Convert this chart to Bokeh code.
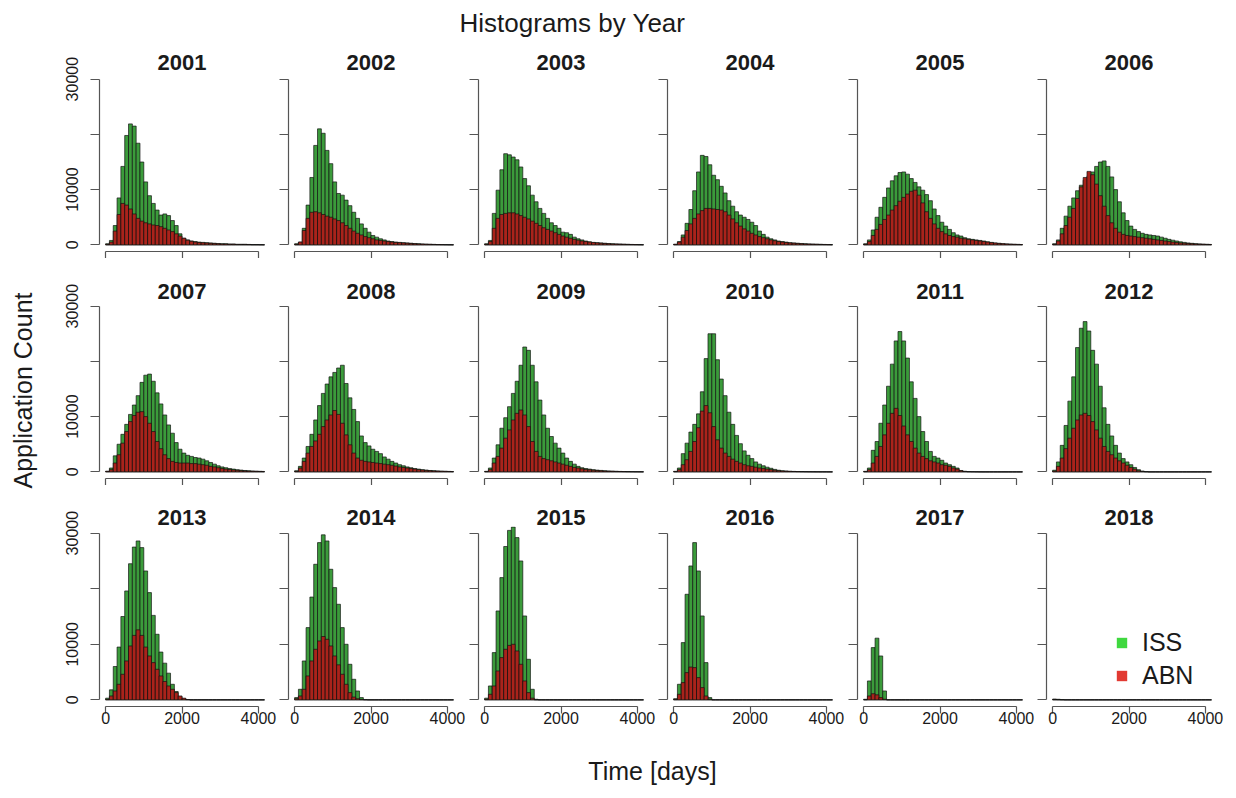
import math
from bokeh.plotting import figure
from bokeh.layouts import row, column
from bokeh.models import Range1d, FixedTicker, Label, Legend, LegendItem, CustomJSTickFormatter
from bokeh.embed import file_html
from bokeh.resources import INLINE

FONT = "Liberation Sans"

# ---------------- data: counts per 100-day bin (bins 0-100, 100-200, ...) ----------------
NB = 43
BIN = 100
bin_left = [i * BIN for i in range(NB)]
bin_mid = [b + BIN / 2 for b in bin_left]

years = list(range(2001, 2019))
series_names = ["ISS", "ABN"]
x_ticks = [0, 2000, 4000]
y_ticks = [0, 10000, 20000, 30000]

ISS_2001 = [200, 800, 3500, 8500, 14200, 19800, 21900, 21500, 18400, 15000, 11400, 8900, 7500, 6300, 5400, 5600, 5300, 4400, 3500, 2000, 1200, 900, 700, 600, 500, 450, 400, 350, 300, 250, 200, 200, 150, 150, 100, 100, 100, 80, 50, 50, 40, 30, 20]
ABN_2001 = [100, 500, 2500, 5500, 7500, 7200, 6500, 5600, 4800, 4300, 4000, 3800, 3600, 3500, 3300, 3000, 2700, 2400, 2000, 1600, 1200, 850, 650, 500, 420, 380, 330, 280, 240, 200, 170, 160, 120, 120, 80, 80, 80, 60, 40, 40, 30, 20, 15]
ISS_2002 = [200, 500, 3000, 7200, 12200, 18000, 21000, 20200, 17100, 14700, 11400, 9300, 9000, 8100, 7100, 5900, 4800, 3800, 3000, 2300, 1700, 1400, 1100, 900, 700, 600, 500, 450, 400, 350, 300, 250, 200, 150, 120, 100, 80, 60, 50, 40, 30, 20, 20]
ABN_2002 = [100, 500, 2600, 4800, 5900, 6000, 5800, 5500, 5200, 5000, 4700, 4400, 4000, 3500, 3000, 2500, 2100, 1800, 1500, 1300, 1100, 900, 800, 700, 600, 500, 450, 400, 350, 300, 250, 200, 180, 150, 120, 100, 80, 60, 50, 40, 30, 20, 20]
ISS_2003 = [200, 800, 5700, 9900, 13600, 16500, 16300, 15900, 15400, 14100, 12000, 10700, 9000, 7800, 6600, 5700, 4800, 4000, 3500, 3000, 2300, 2200, 1900, 1400, 1100, 900, 700, 550, 450, 400, 350, 300, 250, 200, 180, 150, 120, 100, 80, 60, 50, 40, 30]
ABN_2003 = [100, 600, 3000, 4800, 5500, 5700, 5800, 5800, 5600, 5300, 5000, 4700, 4300, 3900, 3500, 3100, 2800, 2500, 2200, 1900, 1600, 1400, 1200, 1000, 850, 700, 600, 500, 420, 360, 300, 250, 200, 170, 140, 120, 100, 80, 60, 50, 40, 30, 20]
ISS_2004 = [100, 600, 1800, 3900, 6400, 9800, 13200, 16200, 16000, 14500, 12600, 11800, 10600, 9400, 8000, 7000, 6000, 5400, 5000, 4600, 4100, 3500, 2500, 1900, 1400, 1100, 900, 700, 600, 500, 400, 350, 300, 250, 200, 170, 140, 120, 100, 80, 60, 50, 40]
ABN_2004 = [100, 500, 1400, 2600, 3800, 4800, 5600, 6200, 6600, 6600, 6500, 6400, 6300, 6000, 5400, 4700, 4000, 3400, 2900, 2500, 2100, 1800, 1500, 1300, 1100, 900, 750, 600, 500, 420, 350, 300, 250, 200, 170, 140, 120, 100, 80, 60, 50, 40, 30]
ISS_2005 = [200, 900, 2700, 5000, 6800, 8600, 10300, 11600, 12500, 13100, 13200, 12800, 12000, 11300, 10500, 9900, 9100, 8000, 6500, 5300, 4100, 3400, 2800, 2200, 1800, 1600, 1300, 1100, 1000, 900, 800, 700, 550, 450, 350, 280, 220, 170, 130, 100, 80, 60, 50]
ABN_2005 = [100, 600, 1700, 2800, 3700, 4600, 5400, 6300, 7100, 7900, 8600, 9200, 9700, 9900, 9000, 7600, 6000, 4800, 3800, 3000, 2400, 2000, 1700, 1500, 1400, 1200, 1100, 1000, 900, 800, 700, 600, 500, 400, 320, 260, 200, 160, 120, 100, 80, 60, 50]
ISS_2006 = [200, 900, 3000, 5200, 7000, 8500, 9800, 10800, 11700, 12500, 13200, 14200, 15000, 15200, 14200, 12300, 10000, 7800, 5800, 4400, 3400, 2800, 2400, 2100, 1900, 1800, 1700, 1600, 1400, 1200, 1000, 850, 700, 550, 450, 350, 280, 220, 170, 130, 100, 80, 60]
ABN_2006 = [100, 700, 2000, 3500, 5000, 6600, 8400, 10500, 12200, 13300, 12700, 11000, 8900, 7000, 5300, 4000, 3000, 2300, 1900, 1700, 1600, 1500, 1400, 1300, 1200, 1100, 1000, 900, 800, 700, 600, 500, 420, 350, 300, 250, 200, 160, 130, 100, 80, 60, 50]
ISS_2007 = [100, 700, 2900, 5000, 6800, 8600, 10400, 12100, 13800, 16200, 17500, 17700, 16400, 14300, 12300, 10300, 8500, 7000, 5300, 4100, 3400, 3000, 2800, 2600, 2500, 2300, 2000, 1700, 1400, 1100, 900, 750, 600, 500, 400, 320, 250, 200, 150, 120, 100, 80, 60]
ABN_2007 = [100, 400, 1600, 3100, 5200, 7300, 9100, 10200, 10800, 10900, 10000, 8800, 7300, 5500, 4200, 3100, 2400, 1900, 1700, 1600, 1600, 1600, 1500, 1500, 1400, 1300, 1200, 1000, 900, 750, 600, 500, 420, 350, 280, 220, 180, 140, 110, 90, 70, 50, 40]
ISS_2008 = [200, 1000, 2500, 4600, 6800, 9400, 12000, 14200, 15900, 17200, 18000, 18800, 19300, 16000, 13400, 11300, 9100, 6500, 5300, 4700, 4100, 3700, 3300, 2700, 2300, 1900, 1600, 1300, 1100, 900, 750, 600, 500, 400, 320, 250, 200, 160, 120, 100, 80, 60, 50]
ABN_2008 = [100, 700, 1900, 3400, 4600, 5600, 6800, 8200, 9400, 10300, 11100, 10400, 8800, 6700, 4900, 3400, 2500, 2100, 1900, 1800, 1700, 1600, 1500, 1400, 1300, 1200, 1050, 900, 800, 700, 600, 500, 400, 330, 270, 220, 180, 140, 110, 90, 70, 50, 40]
ISS_2009 = [100, 700, 2500, 4900, 7900, 9800, 11800, 14200, 16400, 19300, 22600, 22000, 19300, 16300, 13000, 10300, 7900, 6400, 5200, 4300, 3400, 2500, 1900, 1400, 1000, 750, 600, 500, 400, 320, 260, 200, 160, 130, 100, 80, 60, 50, 40, 30, 20, 20, 10]
ABN_2009 = [50, 400, 1600, 2800, 4300, 6100, 7600, 9400, 10600, 11200, 10300, 8200, 5500, 3700, 2800, 2400, 2200, 2000, 1800, 1600, 1400, 1200, 1000, 800, 700, 550, 450, 370, 300, 240, 190, 150, 120, 100, 80, 60, 50, 40, 30, 20, 20, 10, 10]
ISS_2010 = [100, 700, 3300, 5200, 7200, 8600, 10500, 14500, 20500, 25000, 25000, 20300, 16800, 13800, 10800, 8600, 6600, 5100, 3800, 3000, 2400, 1800, 1400, 1100, 850, 650, 450, 300, 200, 150, 100, 80, 60, 50, 40, 30, 20, 20, 10, 10, 10]
ABN_2010 = [50, 400, 1300, 2200, 3700, 5500, 8000, 11000, 12000, 10700, 8200, 5800, 4300, 3400, 2800, 2300, 1900, 1600, 1300, 1100, 1000, 850, 700, 600, 500, 400, 300, 220, 160, 120, 90, 70, 50, 40, 30, 20, 20, 10, 10, 10]
ISS_2011 = [100, 700, 3900, 5500, 8800, 12100, 15500, 19500, 23700, 25400, 23700, 20600, 16300, 13300, 10000, 7300, 5500, 3700, 2800, 2500, 2100, 1600, 1300, 1000, 700, 250, 100, 50, 30, 20, 10]
ABN_2011 = [50, 400, 1600, 2800, 4600, 6700, 8800, 10600, 11500, 10200, 8300, 6700, 5500, 4300, 3400, 2800, 2400, 2000, 1800, 1600, 1300, 1200, 1000, 700, 500, 200, 80, 30, 20, 10]
ISS_2012 = [300, 1800, 4800, 8400, 12800, 17200, 22500, 26000, 27200, 25500, 22000, 19500, 15500, 11600, 8600, 6500, 4800, 3400, 2400, 1800, 1300, 800, 400, 150, 50]
ABN_2012 = [150, 1000, 2500, 4200, 6100, 7900, 9400, 10300, 10600, 10200, 9100, 7600, 6100, 4600, 3700, 3100, 2500, 2000, 1600, 1200, 800, 500, 200, 70, 20]
ISS_2013 = [300, 1800, 6000, 9500, 15000, 19600, 24500, 27500, 28600, 27400, 23200, 19300, 15200, 11800, 8600, 6600, 4800, 2800, 1500, 600, 200, 50]
ABN_2013 = [100, 700, 1600, 2800, 4600, 7000, 9700, 11600, 12600, 11600, 9500, 7900, 6700, 5500, 4300, 3300, 2500, 1900, 1300, 700, 300, 50]
ISS_2014 = [400, 1900, 7000, 13000, 18500, 24400, 28300, 29700, 28600, 23500, 20200, 17200, 13000, 10000, 6400, 3700, 1600, 400, 50]
ABN_2014 = [200, 700, 1900, 4300, 7000, 9100, 10600, 11400, 10900, 9700, 7900, 6300, 4600, 2800, 1300, 500, 200, 50]
ISS_2015 = [300, 2500, 8500, 16000, 22000, 27600, 30500, 31100, 29200, 25000, 15100, 7300, 1900, 100]
ABN_2015 = [100, 1000, 2500, 5200, 7600, 9100, 9800, 10000, 8800, 6400, 3400, 1300, 300]
ISS_2016 = [200, 2800, 10300, 19000, 24100, 28300, 23200, 15100, 6700, 400]
ABN_2016 = [100, 1000, 3100, 4900, 5900, 5800, 4000, 2200, 700, 100]
ISS_2017 = [100, 3400, 9400, 11100, 7900, 1600]
ABN_2017 = [20, 700, 1100, 900, 400, 100]
ISS_2018 = [150, 100, 50]
ABN_2018 = [50, 30]

ISS = [ISS_2001, ISS_2002, ISS_2003, ISS_2004, ISS_2005, ISS_2006, ISS_2007, ISS_2008, ISS_2009,
       ISS_2010, ISS_2011, ISS_2012, ISS_2013, ISS_2014, ISS_2015, ISS_2016, ISS_2017, ISS_2018]
ABN = [ABN_2001, ABN_2002, ABN_2003, ABN_2004, ABN_2005, ABN_2006, ABN_2007, ABN_2008, ABN_2009,
       ABN_2010, ABN_2011, ABN_2012, ABN_2013, ABN_2014, ABN_2015, ABN_2016, ABN_2017, ABN_2018]


def pad(v):
    return list(v) + [0] * (NB - len(v))


# ---------------- styling / layout ----------------
GREEN = "#3b9b3b"
RED = "#aa231b"
EDGE = "#111111"
LEG_GREEN = "#3fd83f"
LEG_RED = "#e23a32"
AXIS = "#555555"
TXT = "#1a1a1a"

FRAME_W = 165
FRAME_H = 180
COL_W = [238, 190, 189, 190, 189, 190]
COL_BL = [59, 10, 10, 10, 10, 10]
ROW_BT = [18, 18, 18]
ROW_BB = [6, 6, 32]
YLAB_W = 40
GRID_W = sum(COL_W)
TOTAL_W = YLAB_W + GRID_W
BOT_H = 56

TOP_H = 80            # strip with main title + titles of row 1
STRIP_H = 50          # strips with titles of rows 2 and 3
ROW_OVERLAP = [26, 27, 27]   # each panel row slides up over the strip above it
TITLE_Y = [62, 33, 32]       # title centre measured from the top of its strip
MAIN_TITLE_Y = 22

XR = (-160, 4160)
YR = (-1200, 31200)

col_frame_left = []
acc = 0
for c in range(6):
    col_frame_left.append(acc + COL_BL[c])
    acc += COL_W[c]
col_center = [fl + FRAME_W / 2 for fl in col_frame_left]

no_labels = CustomJSTickFormatter(code="return '';")


def make_panel(idx, r, c):
    year = years[idx]
    w = COL_W[c]
    bl = COL_BL[c]
    br = w - bl - FRAME_W
    bt, bb = ROW_BT[r], ROW_BB[r]
    h = bt + FRAME_H + bb
    p = figure(width=w, height=h, x_range=Range1d(*XR), y_range=Range1d(*YR),
               output_backend="svg", toolbar_location=None,
               min_border_left=bl, min_border_right=br,
               min_border_top=bt, min_border_bottom=bb)
    p.outline_line_color = None
    p.xgrid.visible = False
    p.ygrid.visible = False
    p.background_fill_alpha = 0
    p.border_fill_alpha = 0

    p.vbar(x=bin_mid, width=BIN, top=pad(ISS[idx]), bottom=0,
           fill_color=GREEN, line_color=EDGE, line_width=0.8, line_alpha=0.85)
    p.vbar(x=bin_mid, width=BIN, top=pad(ABN[idx]), bottom=0,
           fill_color=RED, line_color=EDGE, line_width=0.8, line_alpha=0.85)

    xa = p.xaxis[0]
    xa.ticker = FixedTicker(ticks=x_ticks)
    xa.bounds = (x_ticks[0], x_ticks[-1])
    xa.major_tick_out = 7
    xa.major_tick_in = 0
    xa.minor_tick_out = 0
    xa.minor_tick_in = 0
    xa.axis_line_color = AXIS
    xa.major_tick_line_color = AXIS
    xa.axis_line_width = 1.2
    xa.major_tick_line_width = 1.2
    if r == 2:
        xa.major_label_text_font = FONT
        xa.major_label_text_font_size = "16px"
        xa.major_label_text_color = TXT
        xa.major_label_standoff = -2
    else:
        xa.formatter = no_labels
        xa.major_label_text_font_size = "0px"
        xa.major_label_standoff = 0

    ya = p.yaxis[0]
    ya.ticker = FixedTicker(ticks=y_ticks)
    ya.bounds = (y_ticks[0], y_ticks[-1])
    ya.major_tick_out = 9
    ya.major_tick_in = 0
    ya.minor_tick_out = 0
    ya.minor_tick_in = 0
    ya.axis_line_color = AXIS
    ya.major_tick_line_color = AXIS
    ya.axis_line_width = 1.2
    ya.major_tick_line_width = 1.2
    if c == 0:
        ya.formatter = CustomJSTickFormatter(code="return tick == 20000 ? '' : tick.toFixed(0);")
        ya.major_label_orientation = "vertical"
        ya.major_label_text_font = FONT
        ya.major_label_text_font_size = "16px"
        ya.major_label_text_color = TXT
        ya.major_label_standoff = 12
    else:
        ya.formatter = no_labels
        ya.major_label_text_font_size = "0px"
        ya.major_label_standoff = 0

    if year == 2018:
        r_iss = p.vbar(x=bin_mid, top=pad(ISS[idx]), width=BIN, fill_color=LEG_GREEN,
                       line_color=None, visible=False)
        r_abn = p.vbar(x=bin_mid, top=pad(ABN[idx]), width=BIN, fill_color=LEG_RED,
                       line_color=None, visible=False)
        leg = Legend(items=[LegendItem(label=series_names[0], renderers=[r_iss]),
                            LegendItem(label=series_names[1], renderers=[r_abn])],
                     location=(69, 16), orientation="vertical",
                     glyph_width=13, glyph_height=13, label_height=30,
                     spacing=3, padding=0, margin=0, label_standoff=14,
                     label_text_font=FONT, label_text_font_size="25px",
                     label_text_color=TXT, background_fill_alpha=0,
                     border_line_color=None)
        p.add_layout(leg)
    return p


def blank_fig(w, h, **kw):
    p = figure(width=w, height=h, x_range=Range1d(0, w), y_range=Range1d(0, h),
               output_backend="svg", toolbar_location=None,
               x_axis_type=None, y_axis_type=None, min_border=0, **kw)
    p.outline_line_color = None
    p.background_fill_alpha = 0
    p.border_fill_alpha = 0
    return p


def add_text(p, x, y_from_top, text, size, bold=False, angle=0.0):
    h = p.height
    p.add_layout(Label(x=x, y=h - y_from_top, text=text, text_font=FONT, text_font_size=size,
                       text_font_style="bold" if bold else "normal",
                       text_color=TXT, text_align="center", text_baseline="middle",
                       angle=angle))


# title strips (transparent); panel rows overlap their lower part
strips = []
for r in range(3):
    s = blank_fig(GRID_W, TOP_H if r == 0 else STRIP_H)
    if r == 0:
        add_text(s, 572 - YLAB_W, MAIN_TITLE_Y, "Histograms by Year", "26px")
    for c in range(6):
        add_text(s, col_center[c], TITLE_Y[r], str(years[r * 6 + c]), "22px", bold=True)
    strips.append(s)

children = []
grid_h = 0
for r in range(3):
    figs = [make_panel(r * 6 + c, r, c) for c in range(6)]
    children.append(strips[r])
    children.append(row(*figs, spacing=0, margin=(-ROW_OVERLAP[r], 0, 0, 0)))
    grid_h += strips[r].height + ROW_BT[r] + FRAME_H + ROW_BB[r] - ROW_OVERLAP[r]

grid_col = column(*children, spacing=0)

ylab_fig = blank_fig(YLAB_W, grid_h)
add_text(ylab_fig, 22, 390, "Application Count", "25px", angle=math.pi / 2)

xlab_fig = blank_fig(TOTAL_W, BOT_H)
add_text(xlab_fig, 652, 770 - grid_h, "Time [days]", "25px")

layout = column(row(ylab_fig, grid_col, spacing=0), xlab_fig, spacing=0)

with open("out.html", "w") as f:
    f.write(file_html(layout, INLINE, title="Histograms by Year"))
